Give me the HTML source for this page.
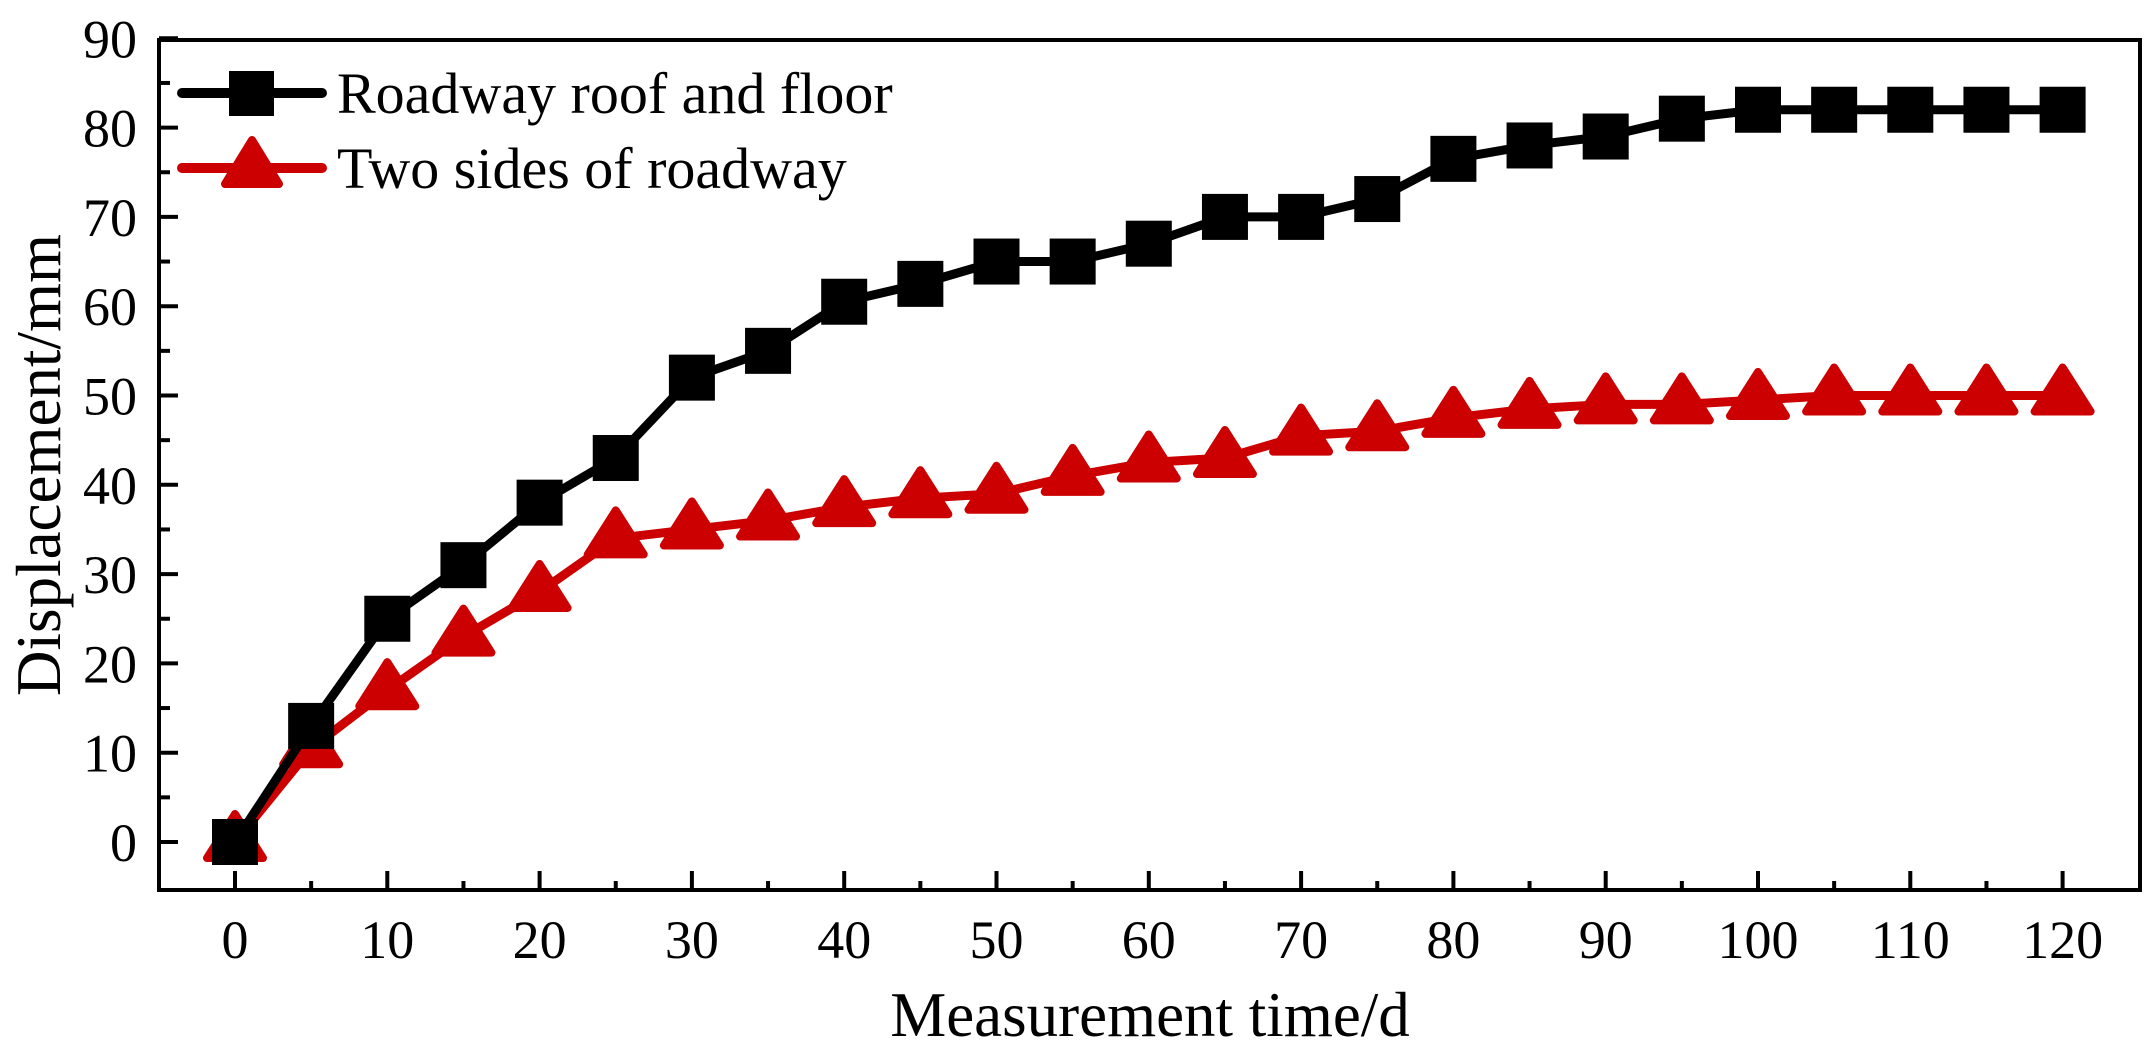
<!DOCTYPE html>
<html><head><meta charset="utf-8"><style>
html,body{margin:0;padding:0;background:#fff;}
svg{display:block;font-family:"Liberation Serif",serif;}
</style></head><body>
<svg id="chart" width="2156" height="1058" viewBox="0 0 2156 1058" xmlns="http://www.w3.org/2000/svg">
<rect x="159" y="40" width="1981" height="850" fill="none" stroke="#000" stroke-width="4"/>
<g id="axes"></g>
<g id="series"></g>
<text x="1150" y="1036" font-size="63" text-anchor="middle">Measurement time/d</text>
<text transform="translate(60,465) rotate(-90)" font-size="63" text-anchor="middle">Displacement/mm</text>
<g>
<line x1="182" y1="93" x2="322" y2="93" stroke="#000" stroke-width="10" stroke-linecap="round"/>
<rect x="229" y="71" width="45" height="45" fill="#000"/>
<text x="337" y="113" font-size="58">Roadway roof and floor</text>
<line x1="182" y1="168" x2="322" y2="168" stroke="#cc0000" stroke-width="10" stroke-linecap="round"/>
<polygon points="252,140 225,184 279,184" fill="#cc0000" stroke="#cc0000" stroke-width="8" stroke-linejoin="round"/>
<text x="337" y="188" font-size="58">Two sides of roadway</text>
</g>
</svg>
<script>
const days = [0,5,10,15,20,25,30,35,40,45,50,55,60,65,70,75,80,85,90,95,100,105,110,115,120];
const roofFloor = [0,13,25,31,38,43,52,55,60.5,62.5,65,65,67,70,70,72,76.5,78,79,81,82,82,82,82,82];
const twoSides = [0,10.5,17,23,28,34,35,36,37.5,38.5,39,41,42.5,43,45.5,46,47.5,48.5,49,49,49.5,50,50,50,50];
const yTicks = [0,10,20,30,40,50,60,70,80,90];
const xTicks = [0,10,20,30,40,50,60,70,80,90,100,110,120];
const NS = "http://www.w3.org/2000/svg";
function xs(v){return 235 + v*15.23;}
function ys(v){return 842 - v*8.93;}
function mk(tag, attrs, parent){const e=document.createElementNS(NS,tag);for(const k in attrs)e.setAttribute(k,attrs[k]);parent.appendChild(e);return e;}
const axes=document.getElementById('axes');
for(let v=0; v<=90; v+=5){
  const y=ys(v); const major=v%10===0;
  const t=mk('line',{x1:159,y1:y,x2:159+(major?19:11),y2:y,stroke:'#000','stroke-width':4},axes);
  
  
}
yTicks.forEach(v=>{
  const t=mk('text',{x:137,y:ys(v)+19,'font-size':54,'text-anchor':'end'},axes);
  t.textContent=v;
  
  
});
for(let v=0; v<=120; v+=5){
  const x=xs(v); const major=v%10===0;
  const t=mk('line',{x1:x,y1:890,x2:x,y2:890-(major?19:9),stroke:'#000','stroke-width':4},axes);
  
  
}
xTicks.forEach(v=>{
  const t=mk('text',{x:xs(v),y:958,'font-size':54,'text-anchor':'middle'},axes);
  t.textContent=v;
  
  
});
const ser=document.getElementById('series');
const rp=mk('polyline',{points:days.map((d,i)=>xs(d)+','+ys(twoSides[i])).join(' '),fill:'none',stroke:'#cc0000','stroke-width':9,'stroke-linejoin':'round'},ser);


days.forEach((d,i)=>{
  const x=xs(d),y=ys(twoSides[i]);
  const p=mk('polygon',{points:`${x},${y-28} ${x-28},${y+16} ${x+28},${y+16}`,fill:'#cc0000',stroke:'#cc0000','stroke-width':8,'stroke-linejoin':'round'},ser);
  
  
});
const bp=mk('polyline',{points:days.map((d,i)=>xs(d)+','+ys(roofFloor[i])).join(' '),fill:'none',stroke:'#000','stroke-width':9,'stroke-linejoin':'round'},ser);


days.forEach((d,i)=>{
  const x=xs(d),y=ys(roofFloor[i]);
  const r=mk('rect',{x:x-23,y:y-23,width:46,height:46,fill:'#000'},ser);
  
  
});
</script>
</body></html>
